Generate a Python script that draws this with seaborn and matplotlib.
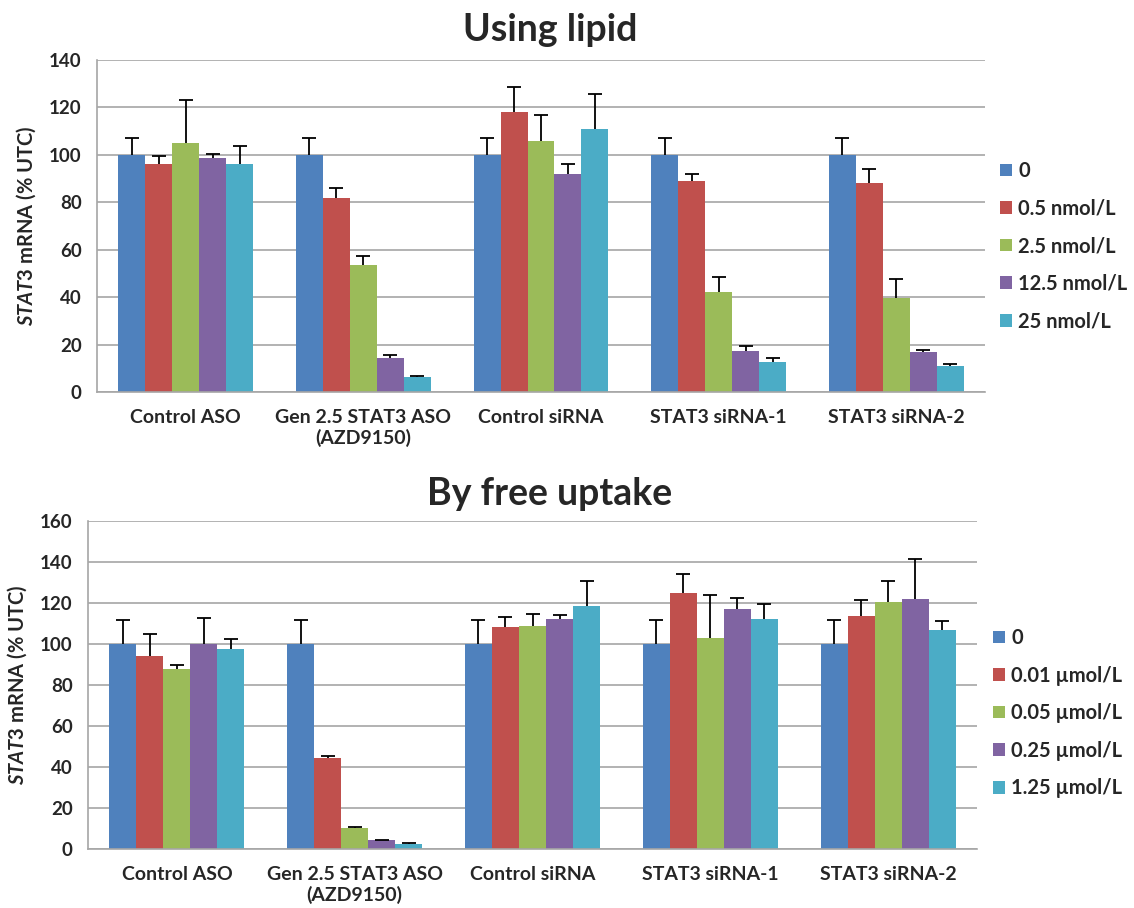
import numpy as np
import pandas as pd
import matplotlib
matplotlib.use("Agg")
import matplotlib.pyplot as plt
import seaborn as sns

groups = ["Control ASO", "Gen 2.5 STAT3 ASO\n(AZD9150)", "Control siRNA",
          "STAT3 siRNA-1", "STAT3 siRNA-2"]
colors = ["#4F81BD", "#C0504D", "#9BBB59", "#8064A2", "#4BACC6"]

# Using lipid
lipid_doses = ["0", "0.5 nmol/L", "2.5 nmol/L", "12.5 nmol/L", "25 nmol/L"]
lipid_vals = [
    [100, 100, 100, 100, 100],
    [96, 82, 118, 89, 88],
    [105, 53.5, 106, 42, 39.5],
    [98.5, 14.5, 92, 17.5, 16.8],
    [96, 6.3, 111, 12.5, 10.8],
]
lipid_err = [
    [7, 7, 7, 7, 7],
    [3.5, 4, 10.5, 3, 6],
    [18, 4, 11, 6.5, 8],
    [2, 1, 4, 2, 1],
    [7.7, 0.6, 14.8, 1.7, 1],
]

# By free uptake
free_doses = ["0", "0.01 µmol/L", "0.05 µmol/L", "0.25 µmol/L", "1.25 µmol/L"]
free_vals = [
    [100, 100, 100, 100, 100],
    [94, 44.4, 108.5, 124.8, 113.5],
    [88, 10.2, 109, 103, 120.5],
    [100, 4.4, 112, 117, 122],
    [97.8, 2.4, 118.5, 112, 107],
]
free_err = [
    [11.5, 11.5, 11.5, 11.5, 11.5],
    [11, 1.2, 4.7, 9.2, 8.2],
    [2, 0.5, 5.5, 21, 10],
    [12.5, 0.1, 2, 5.5, 19.7],
    [4.7, 0.5, 12, 7.5, 4],
]

sns.set_style("white")
plt.rcParams["font.family"] = ["Lato", "DejaVu Sans"]
plt.rcParams["font.weight"] = "bold"
plt.rcParams["mathtext.fontset"] = "custom"
plt.rcParams["mathtext.it"] = "Lato:italic:bold"
plt.rcParams["mathtext.rm"] = "Lato:bold"

fig = plt.figure(figsize=(11.34, 9.08), dpi=100)


def draw(ax, doses, vals, errs, ymax, title, title_y, legend_xy):
    rows = []
    for d, dose in enumerate(doses):
        for g, grp in enumerate(groups):
            rows.append({"group": grp, "dose": dose, "value": vals[d][g], "err": errs[d][g]})
    df = pd.DataFrame(rows)
    sns.barplot(data=df, x="group", y="value", hue="dose", palette=colors,
                width=0.76, errorbar=None, saturation=1, linewidth=0, ax=ax, zorder=2)
    # error bars (upper only), bar order follows hue then group
    for patch, (_, r) in zip(ax.patches, df.iterrows()):
        cx = patch.get_x() + patch.get_width() / 2
        eb = ax.errorbar(cx, r["value"], yerr=[[0], [r["err"]]], fmt="none",
                         ecolor="black", elinewidth=1.3, capsize=5, capthick=1.3, zorder=3)
        eb[1][0].set_visible(False)
    ax.set_ylim(0, ymax)
    ax.set_yticks(np.arange(0, ymax + 1, 20))
    ax.set_xlim(-0.5, 4.5)
    ax.grid(axis="y", color="#A6A6A6", lw=1.2, zorder=0)
    ax.set_axisbelow(True)
    for s in ["top", "right"]:
        ax.spines[s].set_visible(False)
    for s in ["left", "bottom"]:
        ax.spines[s].set_color("#A6A6A6")
        ax.spines[s].set_linewidth(1.2)
    ax.tick_params(axis="y", length=6, color="#A6A6A6", width=1.2, labelsize=13.5, pad=5)
    ax.tick_params(axis="x", length=0, labelsize=14, pad=12)
    for lbl in ax.get_xticklabels() + ax.get_yticklabels():
        lbl.set_fontweight("bold")
    ax.set_xlabel("")
    ax.set_ylabel(r"$\it{STAT3}$ mRNA (% UTC)", fontsize=14.5, fontweight="bold", labelpad=8)
    ax.legend(loc="upper left", bbox_to_anchor=legend_xy,
              bbox_transform=fig.transFigure, frameon=False,
              handlelength=0.6, handleheight=0.6, handletextpad=0.3,
              labelspacing=0.87, prop={"size": 14.5, "weight": "bold"})
    fig.text(0.485, title_y, title, ha="center", va="center", fontsize=27, fontweight="bold")


ax1 = fig.add_axes([97 / 1134, 1 - 392 / 908, 888 / 1134, 332 / 908])
draw(ax1, lipid_doses, lipid_vals, lipid_err, 140, "Using lipid", 1 - 30 / 908,
     (982 / 1134, 1 - 143 / 908))

ax2 = fig.add_axes([88 / 1134, 1 - 849 / 908, 889 / 1134, 328 / 908])
draw(ax2, free_doses, free_vals, free_err, 160, "By free uptake", 1 - 494 / 908,
     (975 / 1134, 1 - 610 / 908))

fig.savefig("out.png", dpi=100)
